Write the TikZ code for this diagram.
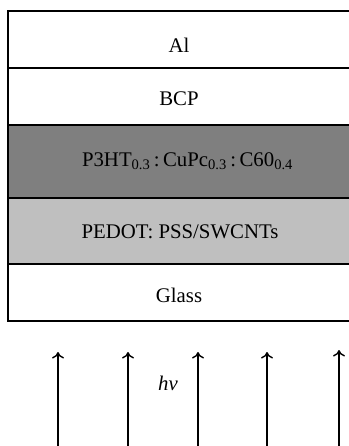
\documentclass[tikz,border=0pt]{standalone}
\usepackage{fontspec}
\setmainfont{Liberation Serif}
\usetikzlibrary{arrows.meta}
\definecolor{darklayer}{HTML}{7F7F7F}
\definecolor{lightlayer}{HTML}{BFBFBF}
\begin{document}
\begin{tikzpicture}[x=1pt,y=-1pt,
  layer/.style={draw=black, line width=1.1pt, minimum width=344pt, inner sep=0pt, outer sep=0pt, anchor=north west},
  lbl/.style={anchor=base, inner sep=0pt, font=\fontsize{20.8}{24}\selectfont},
  ray/.style={line width=1.8pt, -{To[length=6.5pt,width=12pt,line width=1.4pt]}}]
\useasboundingbox (0,0) rectangle (348,446);
\node[layer, minimum height=57pt] (al) at (8,11) {};
\node[layer, minimum height=57pt] (bcp) at (8,68) {};
\node[layer, minimum height=73pt, fill=darklayer] (act) at (8,125) {};
\node[layer, minimum height=66pt, fill=lightlayer] (pedot) at (8,198) {};
\node[layer, minimum height=57pt] (glass) at (8,264) {};
\node[lbl] (tal) at (179,53) {Al};
\node[lbl] (tbcp) at (179,106) {BCP};
\node[lbl] (tact) at (187.5,166.5) {P3HT\textsubscript{0.3}\,:\,CuPc\textsubscript{0.3}\,:\,C60\textsubscript{0.4}};
\node[lbl] (tpedot) at (180,238) {PEDOT: PSS/SWCNTs};
\node[lbl] (tglass) at (179,302.5) {Glass};
\node[lbl] (hv) at (168,390) {\textit{hν}};
\foreach \i/\x/\t in {1/58/352,2/128/352,3/198/352,4/267/352,5/339/350}{
  \coordinate (b\i) at (\x,447);
  \coordinate (t\i) at (\x,\t);
  \draw[ray] (b\i) -- (t\i);
}
\end{tikzpicture}
\end{document}
